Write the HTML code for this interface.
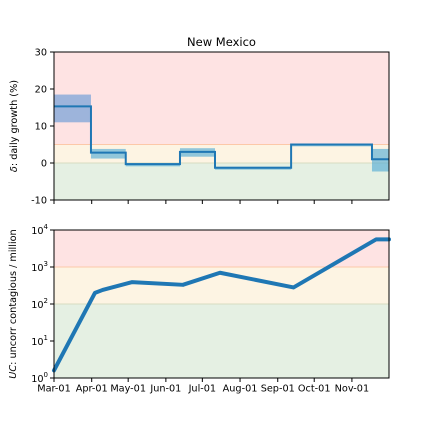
<!DOCTYPE html>
<html><head><meta charset="utf-8"><style>
body{margin:0;background:#fff;font-family:"DejaVu Sans",sans-serif}
svg text{font-family:"DejaVu Sans","Liberation Sans",sans-serif;fill:#000}
</style></head><body>
<svg id="c" width="432" height="432" viewBox="0 0 432 432"></svg>
<script>
const monthLabels=["Mar-01","Apr-01","May-01","Jun-01","Jul-01","Aug-01","Sep-01","Oct-01","Nov-01"];
const monthDays=[0,31,61,92,122,153,184,214,245];
const stepStarts=[0,30.4,59,103.6,132.4,195,261.5];
const stepEnd=275.5;
const stepValues=[15.3,2.8,-0.3,3,-1.3,5,1];
const stepLow=[11,1.2,-0.9,1.7,-1.8,4.5,-2.3];
const stepHigh=[18.5,3.8,0,4,-1,5.2,3.8];
const ucDays=[0,33.7,40,64,106,136.5,197,265,275.5];
const ucValues=[1.6,200,240,390,330,700,280,5600,5600];
const topTicks=[-10,0,10,20,30];
const botTicks=[0,1,2,3,4];

const NS="http://www.w3.org/2000/svg",svg=document.getElementById('c');
function el(t,a,p){const e=document.createElementNS(NS,t);for(const k in a)e.setAttribute(k,a[k]);(p||svg).appendChild(e);return e;}
const X0=54,X1=389;
const x=d=>X0+(d/stepEnd)*(X1-X0);
const yT=v=>200-(v+10)/40*148;
const yB=v=>378-Math.log10(v)/4*148;
const FS=9.7;

let g=el('g',{});
let r=el('rect',{x:X0,y:yT(30),width:X1-X0,height:yT(5)-yT(30),fill:'#fee3e3'},g);
r=el('rect',{x:X0,y:yT(5),width:X1-X0,height:yT(0)-yT(5),fill:'#fdf4e3'},g);
r=el('rect',{x:X0,y:yT(0),width:X1-X0,height:yT(-10)-yT(0),fill:'#e5f0e3'},g);
el('line',{x1:X0,x2:X1,y1:yT(5),y2:yT(5),stroke:'#fcc8a8','stroke-width':1},g);
el('line',{x1:X0,x2:X1,y1:yT(0),y2:yT(0),stroke:'#d8dcc0','stroke-width':1},g);
let dp='';
stepValues.forEach((v,i)=>{
  const a=stepStarts[i],b=i<stepStarts.length-1?stepStarts[i+1]:stepEnd;
  const band=el('rect',{x:x(a),y:yT(stepHigh[i]),width:x(b)-x(a),height:yT(stepLow[i])-yT(stepHigh[i]),fill:i==0?'#5b95d6':'#4aa6d4','fill-opacity':0.6},g);
  
  dp+=(i==0?'M':'L')+x(a)+','+yT(v)+'L'+x(b)+','+yT(v);
});
let p=el('path',{d:dp,fill:'none',stroke:'#1f77b4','stroke-width':2},g);
el('rect',{x:X0,y:52,width:X1-X0,height:148,fill:'none',stroke:'#000','stroke-width':1},g);
topTicks.forEach(t=>{el('line',{x1:X0-4,x2:X0,y1:yT(t),y2:yT(t),stroke:'#000'},g);
 const tx=el('text',{x:X0-7,y:yT(t)+3.5,'text-anchor':'end','font-size':FS},g);tx.textContent=t;});
monthDays.forEach(d=>el('line',{x1:x(d),x2:x(d),y1:200,y2:204,stroke:'#000'},g));
let t=el('text',{x:221.5,y:46,'text-anchor':'middle','font-size':11.5},g);t.textContent='New Mexico';
t=el('text',{x:0,y:0,'text-anchor':'middle','font-size':FS,transform:'translate(17,126) rotate(-90)'},g);t.innerHTML='<tspan font-style="italic">δ</tspan>: daily growth (%)';

g=el('g',{});
r=el('rect',{x:X0,y:yB(1e4),width:X1-X0,height:yB(1e3)-yB(1e4),fill:'#fee3e3'},g);
r=el('rect',{x:X0,y:yB(1e3),width:X1-X0,height:yB(100)-yB(1e3),fill:'#fdf4e3'},g);
r=el('rect',{x:X0,y:yB(100),width:X1-X0,height:yB(1)-yB(100),fill:'#e5f0e3'},g);
el('line',{x1:X0,x2:X1,y1:yB(1e3),y2:yB(1e3),stroke:'#fcc8a8'},g);
el('line',{x1:X0,x2:X1,y1:yB(100),y2:yB(100),stroke:'#d8dcc0'},g);
p=el('path',{d:ucDays.map((d,i)=>(i?'L':'M')+x(d)+','+yB(ucValues[i])).join(''),fill:'none',stroke:'#1f77b4','stroke-width':4,'stroke-linejoin':'round','stroke-linecap':'round'},g);

el('rect',{x:X0,y:230,width:X1-X0,height:148,fill:'none',stroke:'#000'},g);
botTicks.forEach(k=>{el('line',{x1:X0-4,x2:X0,y1:yB(Math.pow(10,k)),y2:yB(Math.pow(10,k)),stroke:'#000'},g);
 const tx=el('text',{x:X0-6,y:yB(Math.pow(10,k))+4,'text-anchor':'end','font-size':FS},g);tx.innerHTML='10<tspan dy="-5" font-size="7">'+k+'</tspan>';});
monthDays.forEach((d,i)=>{el('line',{x1:x(d),x2:x(d),y1:378,y2:382,stroke:'#000'},g);
 const tx=el('text',{x:x(d),y:391.5,'text-anchor':'middle','font-size':FS},g);tx.textContent=monthLabels[i];});
t=el('text',{x:0,y:0,'text-anchor':'middle','font-size':FS,transform:'translate(16,304) rotate(-90)'},g);t.innerHTML='<tspan font-style="italic">UC</tspan>: uncorr contagious / million';
</script>
</body></html>
